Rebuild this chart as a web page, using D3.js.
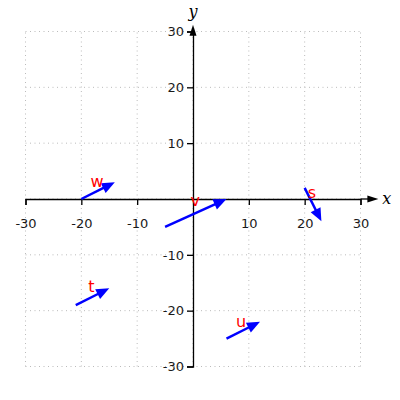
<!DOCTYPE html>
<html>
<head>
<meta charset="utf-8">
<script src="https://cdn.jsdelivr.net/npm/d3@7"></script>
<style>
  body { margin: 0; background: #fff; }
</style>
</head>
<body>
<script>
var ticks = [-30, -20, -10, 10, 20, 30];
var gridVals = [-30, -20, -10, 0, 10, 20, 30];

// vectors: start point and end point in data units
var names = ["w", "v", "s", "t", "u"];
var x0s = [-20, -5, 20, -21, 6];
var y0s = [0, -5, 2, -19, -25];
var x1s = [-14, 6, 23, -15, 12];
var y1s = [3, 0, -4, -16, -22];
// label positions
var lx = [-17.2, 0.4, 21.3, -18.2, 8.6];
var ly = [2.2, -1.3, 0.2, -16.7, -23];

var width = 400, height = 400;
var x = d3.scaleLinear().domain([-30, 30]).range([25.5, 360.5]);
var y = d3.scaleLinear().domain([-30, 30]).range([366.5, 31.5]);
var fmt = function(d) { return String(d); };

var svg = d3.select("body").append("svg")
    .attr("width", width)
    .attr("height", height);

// grid
svg.append("g").selectAll("line.gx")
    .data(gridVals).enter().append("line")
    .attr("x1", function(d) { return x(d); })
    .attr("x2", function(d) { return x(d); })
    .attr("y1", y(-30)).attr("y2", y(30))
    .attr("stroke", "#bbb").attr("stroke-width", 1)
    .attr("stroke-dasharray", "1,3.5");
svg.append("g").selectAll("line.gy")
    .data(gridVals).enter().append("line")
    .attr("y1", function(d) { return y(d); })
    .attr("y2", function(d) { return y(d); })
    .attr("x1", x(-30)).attr("x2", x(30))
    .attr("stroke", "#bbb").attr("stroke-width", 1)
    .attr("stroke-dasharray", "1,3.5");

// axes
var xAxis = svg.append("g")
    .attr("transform", "translate(0," + y(0) + ")")
    .call(d3.axisBottom(x).tickValues(ticks).tickFormat(fmt).tickSize(6).tickSizeOuter(6).tickPadding(14));
var yAxis = svg.append("g")
    .attr("transform", "translate(" + x(0) + ",0)")
    .call(d3.axisLeft(y).tickValues(ticks).tickFormat(fmt).tickSize(6).tickSizeOuter(6).tickPadding(3));
svg.selectAll(".domain").attr("stroke", "#000").attr("stroke-width", 1.3);
svg.selectAll(".tick line").attr("stroke", "#000").attr("stroke-width", 1.3);
svg.selectAll(".tick text")
    .attr("fill", "#1a1a1a")
    .style("font-family", "'DejaVu Sans', sans-serif")
    .style("font-size", "13px");

// axis extensions with arrowheads
svg.append("line")
    .attr("x1", x(30)).attr("x2", x(33.2) - 8)
    .attr("y1", y(0)).attr("y2", y(0))
    .attr("stroke", "#000").attr("stroke-width", 1.3);
svg.append("path")
    .attr("d", "M" + x(33.2) + "," + y(0) + "l-11,-3.5l0,7z")
    .attr("fill", "#000");
svg.append("line")
    .attr("x1", x(0)).attr("x2", x(0))
    .attr("y1", y(30)).attr("y2", y(31.2) + 8)
    .attr("stroke", "#000").attr("stroke-width", 1.3);
svg.append("path")
    .attr("d", "M" + x(0) + "," + y(31.2) + "l-3.5,11l7,0z")
    .attr("fill", "#000");

svg.append("text")
    .attr("x", x(33.2) + 4).attr("y", y(0) + 5)
    .style("font-family", "'DejaVu Serif', serif")
    .style("font-style", "italic")
    .style("font-size", "16px")
    .text("x");
svg.append("text")
    .attr("x", x(0)).attr("y", 17)
    .attr("text-anchor", "middle")
    .style("font-family", "'DejaVu Serif', serif")
    .style("font-style", "italic")
    .style("font-size", "16px")
    .text("y");

// vectors
var headLen = 13, headW = 5.5;
names.forEach(function(n, i) {
  var ax = x(x0s[i]), ay = y(y0s[i]);
  var bx = x(x1s[i]), by = y(y1s[i]);
  var len = Math.hypot(bx - ax, by - ay);
  var ux = (bx - ax) / len, uy = (by - ay) / len;
  var cx = bx - ux * headLen, cy = by - uy * headLen;
  svg.append("line")
      .attr("x1", ax).attr("y1", ay)
      .attr("x2", cx + ux * 2).attr("y2", cy + uy * 2)
      .attr("stroke", "blue").attr("stroke-width", 2.5);
  svg.append("path")
      .attr("d", "M" + bx + "," + by +
        "L" + (cx - uy * headW) + "," + (cy + ux * headW) +
        "L" + (cx + uy * headW) + "," + (cy - ux * headW) + "Z")
      .attr("fill", "blue");
});

// labels
svg.selectAll("text.lbl")
    .data(names).enter().append("text")
    .attr("class", "lbl")
    .attr("x", function(d, i) { return x(lx[i]); })
    .attr("y", function(d, i) { return y(ly[i]); })
    .attr("text-anchor", "middle")
    .attr("fill", "red")
    .style("font-family", "'DejaVu Sans', sans-serif")
    .style("font-size", "16px")
    .text(function(d) { return d; });
</script>
</body>
</html>
